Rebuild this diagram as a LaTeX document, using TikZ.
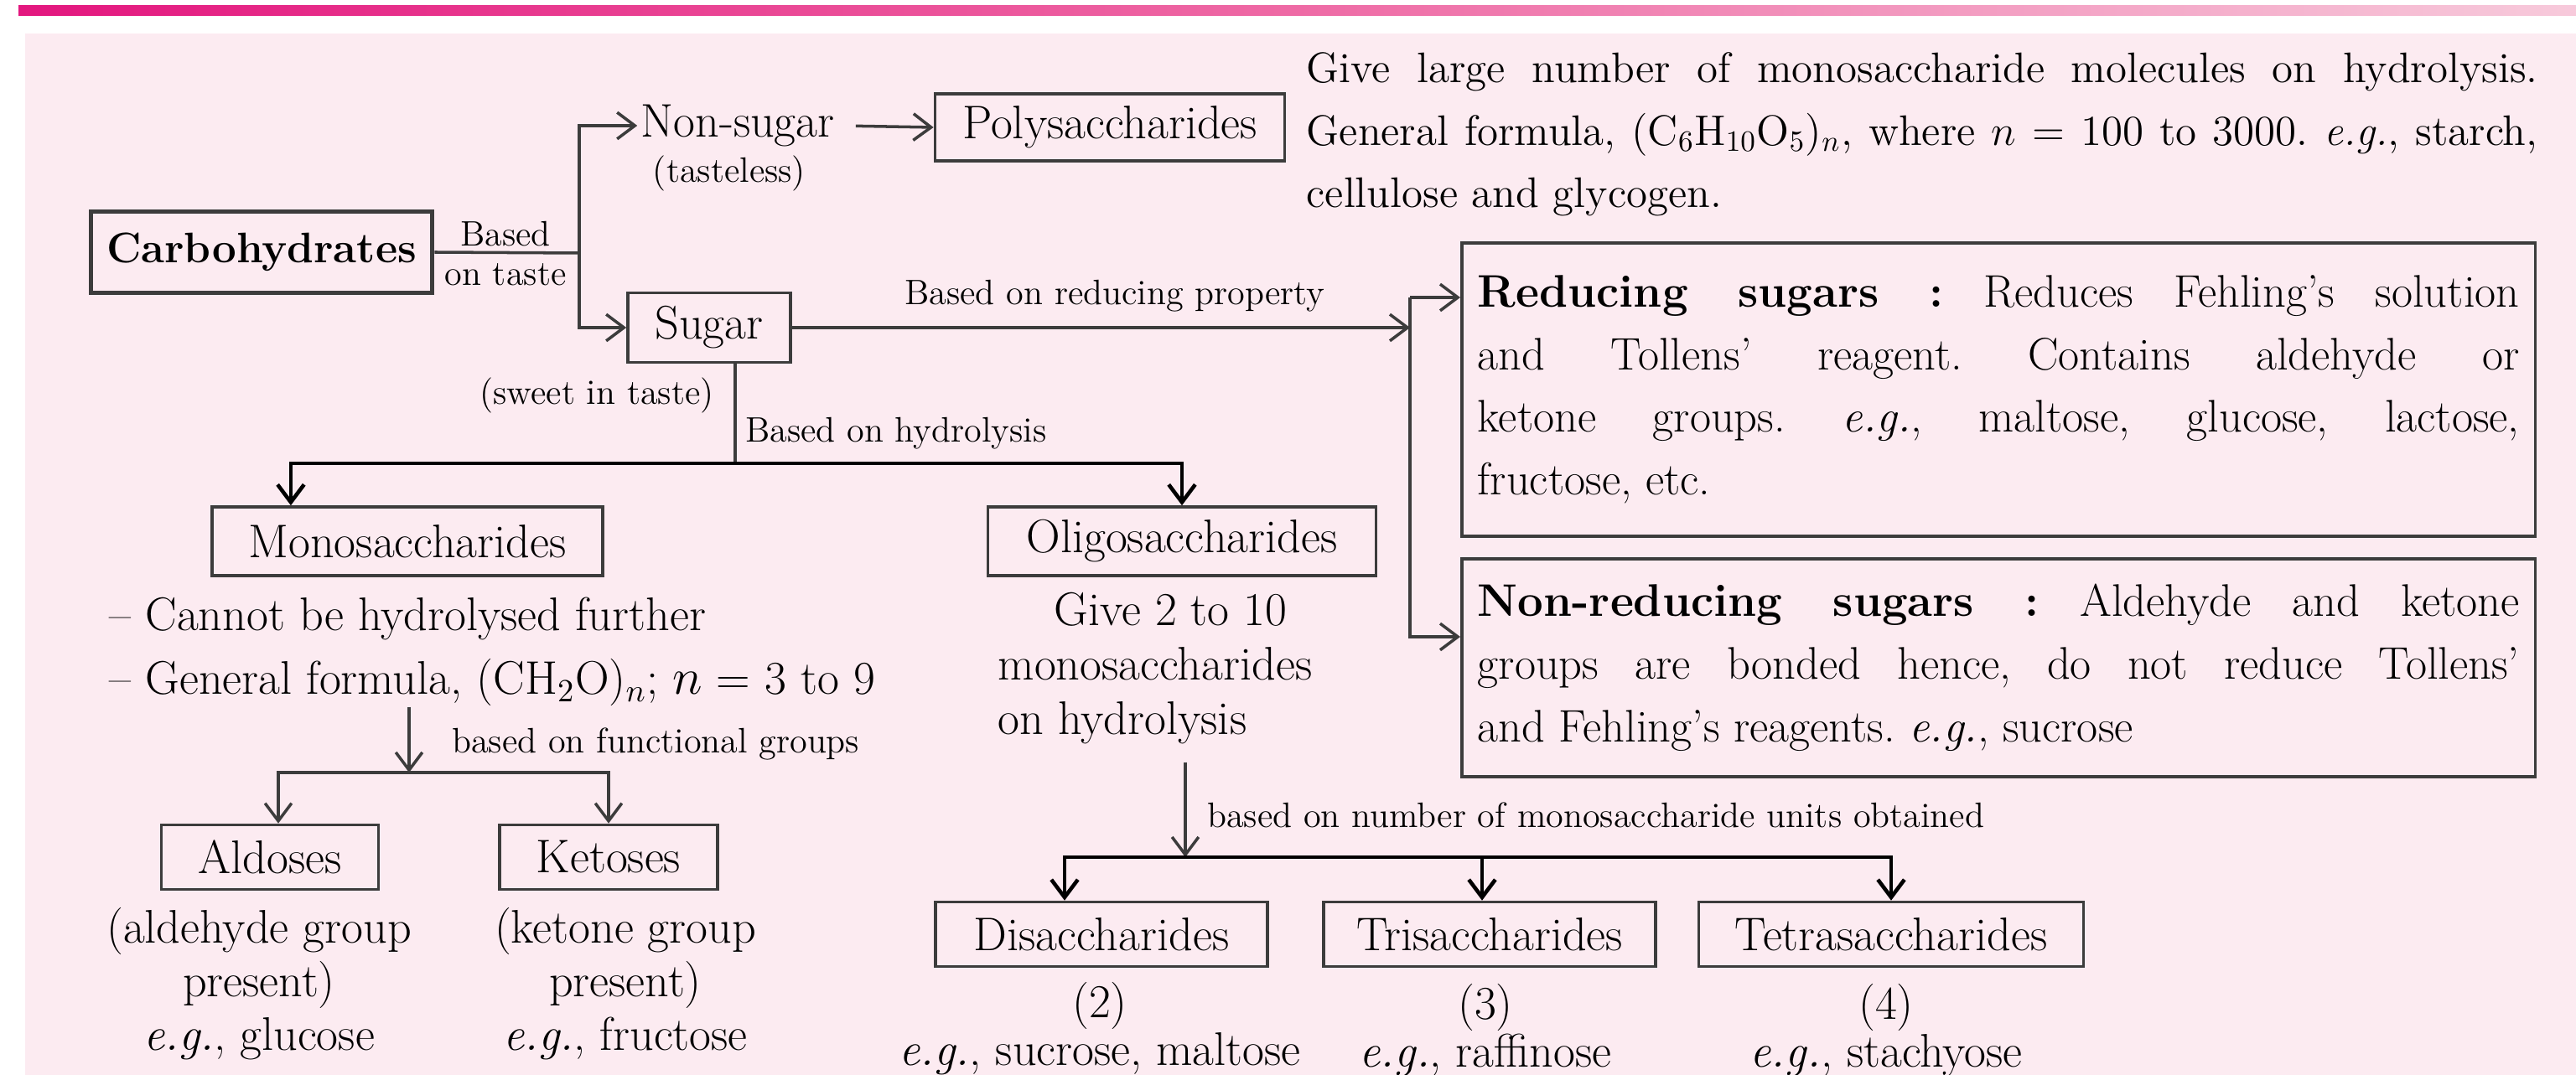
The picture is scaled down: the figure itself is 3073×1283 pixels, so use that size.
\documentclass[tikz,border=0pt]{standalone}
\usepackage{tikz}
\usetikzlibrary{arrows.meta}
\definecolor{pinkbg}{HTML}{FCEBF1}
\definecolor{barpink}{HTML}{E3177F}
\definecolor{barmid}{HTML}{EE6AA5}
\definecolor{barlight}{HTML}{F7CADB}
\definecolor{linegray}{HTML}{3C3C3C}
\frenchspacing

\newcommand\fmain{\fontsize{16}{21.6}\selectfont}
\newcommand\fpar{\fontsize{14.5}{21.3}\selectfont}
\newcommand\fboxpar{\fontsize{15.5}{21.3}\selectfont}
\newcommand\fsmall{\fontsize{12}{14}\selectfont}

\tikzset{
  box/.style={draw=linegray, line width=1pt, inner sep=0pt, font=\fmain},
  plain/.style={inner sep=1pt, font=\fmain},
  lbl/.style={inner sep=1pt, font=\fsmall},
  note/.style={inner sep=0pt, align=justify, font=\fpar, anchor=north west},
  para/.style={note, draw=linegray, line width=1pt, inner xsep=0.19cm, font=\fboxpar},
  link/.style={draw=linegray, line width=1pt},
  arr/.style={link, -{Straight Barb[length=6pt,width=9pt]}},
  bar/.style={draw=black, line width=1.3pt},
}

\begin{document}
\begin{tikzpicture}[x=0.01cm, y=-0.01cm]
  \useasboundingbox (0,0) rectangle (3073,1283);
  \fill[white] (0,0) rectangle (3073,1283);
  \shade[left color=barpink, right color=barlight, middle color=barmid] (22,7) rectangle (3073,19);
  \fill[pinkbg] (30,40) rectangle (3073,1283);

  \node[box, line width=1.6pt, font=\fontsize{14.5}{17}\selectfont\bfseries,
        minimum width=4.07cm, minimum height=0.97cm] (carbo) at (312,301) {Carbohydrates};
  \node[lbl] (tasteA) at (603,279) {Based};
  \node[lbl] (tasteB) at (603,328) {on taste};
  \coordinate (tasteFork) at (691,302);
  \node[plain] (nonsugar) at (880,150) {Non-sugar};
  \node[lbl] (tasteless) at (870,207) {(tasteless)};
  \node[box, minimum width=1.94cm, minimum height=0.83cm] (sugar) at (846,391) {Sugar};
  \node[lbl] (sweet) at (712,472) {(sweet in taste)};
  \node[box, minimum width=4.17cm, minimum height=0.80cm] (poly) at (1324,152) {Polysaccharides};
  \node[note, text width=14.68cm] (polytext) at (1558,45) {\strut Give large number of monosaccharide molecules on hydrolysis.\linebreak
    General formula, (C$_6$H$_{10}$O$_5$)$_n$, where $n$ = 100 to 3000. \emph{e.g.}, starch,\linebreak
    cellulose and glycogen.};

  \node[lbl] (redlbl) at (1330,353) {Based on reducing property};
  \coordinate (redTop) at (1682,355);
  \coordinate (redBot) at (1682,760);
  \node[para, text width=12.42cm, minimum height=3.5cm] (reducing) at (1742,288) {\textbf{Reducing sugars :} Reduces Fehling's solution\linebreak
    and Tollens' reagent. Contains aldehyde or\linebreak
    ketone groups. \emph{e.g.}, maltose, glucose, lactose,\linebreak
    fructose, etc.};
  \node[para, text width=12.42cm, minimum height=2.6cm] (nonred) at (1742,665) {\textbf{Non-reducing sugars :} Aldehyde and ketone\linebreak
    groups are bonded hence, do not reduce Tollens'\linebreak
    and Fehling's reagents. \emph{e.g.}, sucrose};

  \node[lbl, anchor=west] (hydrolbl) at (885,517) {Based on hydrolysis};
  \coordinate (hydroFork) at (877,553);
  \node[box, minimum width=4.66cm, minimum height=0.82cm] (mono) at (486,646) {Monosaccharides};
  \node[box, minimum width=4.63cm, minimum height=0.82cm] (oligo) at (1410,646) {Oligosaccharides};
  \node[plain, inner sep=0pt, align=left, anchor=north west] (monotext) at (130,699) {\strut -- Cannot be hydrolysed further\\
    -- General formula, (CH$_2$O)$_n$; $n$ = 3 to 9};
  \node[plain, inner sep=0pt, align=left, anchor=north west, font=\fontsize{16}{18.5}\selectfont] (oligotext) at (1190,700) {\strut\hspace*{19pt}Give 2 to 10\\
    monosaccharides\\on hydrolysis};

  \coordinate (funcFork) at (488,922);
  \node[lbl, anchor=west] (funclbl) at (535,888) {based on functional groups};
  \node[box, minimum width=2.59cm, minimum height=0.77cm] (aldo) at (322,1023) {Aldoses};
  \node[box, minimum width=2.60cm, minimum height=0.77cm] (keto) at (726,1023) {Ketoses};
  \node[plain, inner sep=0pt, align=center, anchor=north, font=\fontsize{16}{18.2}\selectfont] (aldotext) at (309,1080) {\strut(aldehyde group\\present)\\\emph{e.g.}, glucose};
  \node[plain, inner sep=0pt, align=center, anchor=north, font=\fontsize{16}{18.2}\selectfont] (ketotext) at (746,1080) {\strut(ketone group\\present)\\\emph{e.g.}, fructose};

  \coordinate (numFork) at (1414,1023);
  \node[lbl, anchor=west] (numlbl) at (1436,973) {based on number of monosaccharide units obtained};
  \node[box, minimum width=3.96cm, minimum height=0.77cm] (di) at (1314,1115) {Disaccharides};
  \node[box, minimum width=3.96cm, minimum height=0.77cm] (tri) at (1777,1115) {Trisaccharides};
  \node[box, minimum width=4.59cm, minimum height=0.77cm] (tetra) at (2256,1115) {Tetrasaccharides};
  \node[plain, inner sep=0pt, align=center, anchor=north, font=\fontsize{16}{16.2}\selectfont] (ditext) at (1312,1172) {\strut(2)\\\emph{e.g.}, sucrose, maltose};
  \node[plain, inner sep=0pt, align=center, anchor=north, font=\fontsize{16}{16.2}\selectfont] (tritext) at (1772,1174) {\strut(3)\\\emph{e.g.}, raffinose};
  \node[plain, inner sep=0pt, align=center, anchor=north, font=\fontsize{16}{16.2}\selectfont] (tetratext) at (2250,1174) {\strut(4)\\\emph{e.g.}, stachyose};

  \draw[link] (carbo.east) -- (tasteFork);
  \draw[arr] (tasteFork) |- (nonsugar.west);
  \draw[arr] (tasteFork) |- (sugar.west);
  \draw[arr, shorten <=6pt] (nonsugar.east) -- (poly.west);
  \draw[arr] (sugar.east) -- (sugar.east -| redTop);
  \draw[arr] (redTop) -- (redTop -| reducing.west);
  \draw[arr] (redTop) -- (redBot) -- (redBot -| nonred.west);

  \draw[link] (sugar.south -| hydroFork) -- (hydroFork);
  \draw[arr, bar] (hydroFork) -| ([xshift=-1.39cm]mono.north);
  \draw[arr, bar] (hydroFork) -| (oligo.north);
  \draw[arr] (monotext.south -| funcFork) -- (funcFork);
  \draw[arr] (funcFork) -| ([xshift=0.1cm]aldo.north);
  \draw[arr] (funcFork) -| (keto.north);
  \draw[arr, shorten <=6pt] (oligotext.south -| numFork) -- (numFork);
  \draw[arr, bar] (numFork) -| ([xshift=-0.44cm]di.north);
  \draw[arr, bar] (numFork) -| ([xshift=-0.09cm]tri.north);
  \draw[arr, bar] (numFork) -| (tetra.north);
\end{tikzpicture}
\end{document}
